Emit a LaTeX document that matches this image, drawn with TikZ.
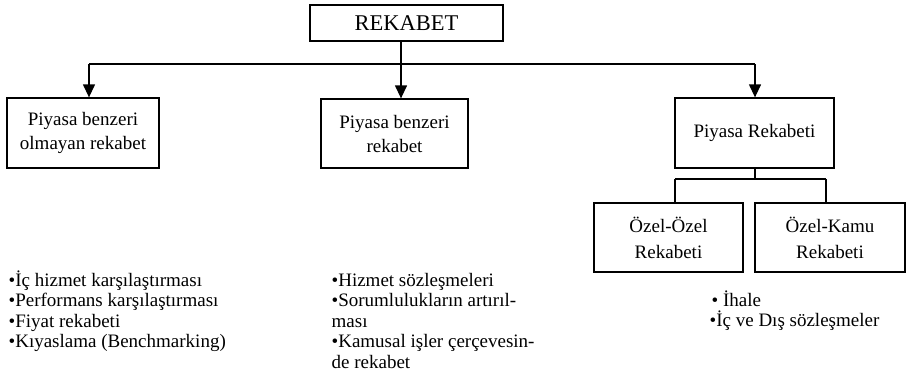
\documentclass[tikz,border=0pt]{standalone}
\usepackage{fontspec}
\setmainfont{Liberation Serif}
\usetikzlibrary{arrows.meta}
\begin{document}
\begin{tikzpicture}[x=1pt,y=-1pt,line width=1.3pt,
  box/.style={draw,line width=1.3pt,align=center,inner sep=0pt,
    font=\fontsize{19}{24}\selectfont},
  arr/.style={-{Triangle[width=12pt,length=13pt]}},
  lst/.style={inner sep=0pt,anchor=base west,font=\fontsize{19}{20.5}\selectfont}]
\path[use as bounding box] (0,0) rectangle (907,386);
% boxes
\node[box,minimum width=193pt,minimum height=36pt,font=\fontsize{22.5}{26}\selectfont] (top) at (406.5,23) {REKABET};
\node[box,minimum width=152pt,minimum height=70pt] (left) at (83,133) {Piyasa benzeri\\olmayan rekabet};
\node[box,minimum width=147pt,minimum height=69pt] (mid) at (394.5,133.5) {Piyasa benzeri\\rekabet};
\node[box,minimum width=159pt,minimum height=70pt] (pr) at (754.5,133) {Piyasa Rekabeti};
\node[box,minimum width=149pt,minimum height=69pt,font=\fontsize{19}{26}\selectfont] (oo) at (668.5,237.5) {Özel-Özel\\Rekabeti};
\node[box,minimum width=150pt,minimum height=69pt,font=\fontsize{19}{26}\selectfont] (ok) at (830,237.5) {Özel-Kamu\\Rekabeti};
% connectors
\coordinate (j) at (401,64);
\coordinate (jl) at (89,64);
\coordinate (jr) at (755,64);
\draw (top.south -| j) -- (j);
\draw (jl) -- (jr);
\draw[arr] (jl) -- (jl |- left.north);
\draw[arr] (j) -- (j |- mid.north);
\draw[arr] (jr) -- (jr |- pr.north);
\coordinate (s) at (755,179);
\coordinate (sl) at (675,179);
\coordinate (sr) at (826,179);
\draw (pr.south -| s) -- (s);
\draw (sl) -- (sr);
\draw (sl) -- (sl |- oo.north);
\draw (sr) -- (sr |- ok.north);
% lists
\node[lst] (l1) at (8,286) {•İç hizmet karşılaştırması};
\node[lst] (l2) at (8,306.5) {•Performans karşılaştırması};
\node[lst] (l3) at (8,327) {•Fiyat rekabeti};
\node[lst] (l4) at (8,347.5) {•Kıyaslama (Benchmarking)};
\node[lst] (m1) at (331,286) {•Hizmet sözleşmeleri};
\node[lst] (m2) at (331,306.5) {•Sorumlulukların artırıl-};
\node[lst] (m3) at (331,327) {ması};
\node[lst] (m4) at (331,347.5) {•Kamusal işler çerçevesin-};
\node[lst] (m5) at (331,368) {de rekabet};
\node[lst] (r1) at (711,306) {• İhale};
\node[lst] (r2) at (709,326.5) {•İç ve Dış sözleşmeler};
\end{tikzpicture}
\end{document}
